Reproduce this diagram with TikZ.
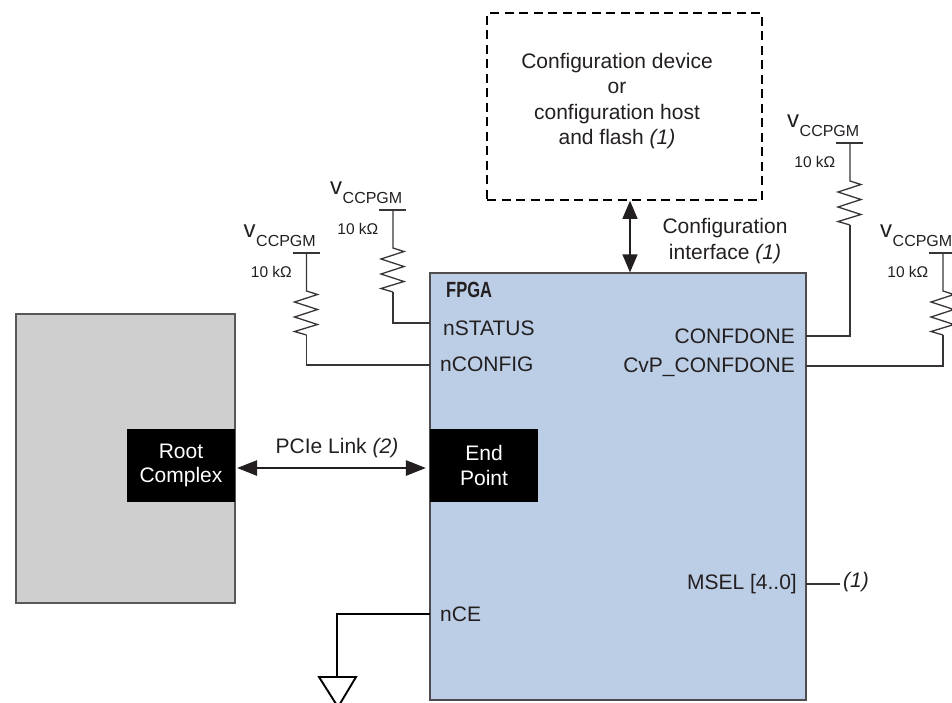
\documentclass[tikz,border=0pt]{standalone}
\usepackage{fontspec}
\setmainfont{Liberation Sans}
\usetikzlibrary{arrows.meta}
\definecolor{inkc}{HTML}{231F20}
\definecolor{fpgablue}{HTML}{BCCEE5}
\definecolor{hostgray}{HTML}{CFCFCF}
\tikzset{
    txt/.style = {inner sep=0pt, text=inkc, font=\fontsize{21}{25.3}\selectfont},
    small/.style = {inner sep=0pt, text=inkc, font=\fontsize{15.5}{18}\selectfont},
    blackbox/.style = {fill=black, text=white, inner sep=0pt, align=center, minimum width=108pt, minimum height=73pt, font=\fontsize{21}{24.5}\selectfont},
    wire/.style = {draw=inkc!90, line width=1.3pt},
    bigarrow/.style = {{Triangle[length=18pt,width=15pt]}-{Triangle[length=18pt,width=15pt]}, line width=1.4pt, draw=inkc},
    linkarrow/.style = {{Triangle[length=20pt,width=15.5pt]}-{Triangle[length=20pt,width=15.5pt]}, line width=1.3pt, draw=inkc, shorten <=2pt, shorten >=4pt}
}
\begin{document}
\begin{tikzpicture}[x=1pt, y=-1pt]
    \useasboundingbox (0,0) rectangle (952,702);
    \clip (0,0) rectangle (952,702);
    \node [draw=inkc!75, line width=1.2pt, fill=hostgray, inner sep=0pt, minimum width=219pt, minimum height=289pt] (host) at (125.5,458.5) {};
    \node [draw=inkc!80, line width=1.2pt, fill=fpgablue, inner sep=0pt, minimum width=376pt, minimum height=427pt] (fpga) at (618,486.5) {};
    \node [draw=black, line width=1.6pt, dash pattern=on 9pt off 5.5pt, inner sep=0pt, minimum width=275pt, minimum height=187pt] (config) at (624.5,106.5) {};
    \node [blackbox] (rootcomplex) at (181,465.5) {Root\\Complex};
    \node [blackbox] (endpoint) at (484,465.5) {End\\Point};
    \node [txt, align=center] (configtext) at (617,101) {Configuration device\\or\\configuration host\\and flash \textit{(1)}};
    \node [txt, align=center] (configlabel) at (725,241) {Configuration\\interface \textit{(1)}};
    \node [txt] (pcielabel) at (337,448) {PCIe Link \textit{(2)}};
    \node [inner sep=0pt, text=inkc, font=\bfseries\fontsize{22}{24}\selectfont, anchor=west] (fpgalabel) at (446,290) {\scalebox{0.75}[1]{FPGA}};
    \node [txt, anchor=west] (nstatus) at (443,328) {nSTATUS};
    \node [txt, anchor=west] (nconfig) at (440,364) {nCONFIG};
    \node [txt, anchor=west] (nce) at (440,614) {nCE};
    \node [txt, anchor=east] (confdone) at (795,336) {CONFDONE};
    \node [txt, anchor=east] (cvpdone) at (795,367.5) {CvP\_CONFDONE};
    \node [txt, anchor=east] (msel) at (797,584.5) {MSEL [4..0]};
    \node [txt, anchor=west] (mselnote) at (843,582) {\textit{(1)}};
    \coordinate (pinstatus) at (430,323);
    \coordinate (pinconfig) at (430,365);
    \coordinate (pindone) at (806,336);
    \coordinate (pincvp) at (806,366);
    \coordinate (pinmsel) at (806,584);
    \coordinate (mselend) at (840,584);
    \coordinate (pince) at (430,614);
    \coordinate (gnd) at (337,677);
    \coordinate (iface) at (630,0);
    \foreach \name/\xx/\yy in {a/306.5/253, b/393/210, c/850/143, d/943/253} {
        \node [inner sep=0pt, text=inkc, font=\fontsize{24}{24}\selectfont, anchor=base west] (v\name) at (\xx-63,\yy-16) {v};
        \node [inner sep=0pt, text=inkc, font=\fontsize{16}{16}\selectfont, anchor=base west] (vcc\name) at (\xx-50.5,\yy-7) {CCPGM};
        \node [small, anchor=base east] (res\name) at (\xx-14.5,\yy+24) {10 kΩ};
        \draw [wire] (\xx-14,\yy) -- (\xx+13,\yy);
        \draw [wire] (\xx,\yy) -- ++(0,38) -- ++(11,3.5) -- ++(-23,7.5) -- ++(23,7.5) -- ++(-23,7.5)
            -- ++(23,7.5) -- ++(-23,7) -- ++(12,3.5) coordinate (end\name);
    }
    \draw [wire] (enda) |- (pinconfig);
    \draw [wire] (endb) |- (pinstatus);
    \draw [wire] (endc) |- (pindone);
    \draw [wire] (endd) |- (pincvp);
    \draw [wire] (pinmsel) -- (mselend);
    \draw [bigarrow] (iface |- config.south) -- (iface |- fpga.north);
    \draw [linkarrow] ([yshift=-2.5pt]rootcomplex.east) -- ([yshift=-2.5pt]endpoint.west);
    \draw [draw=black, line width=1.9pt] (pince) -| (gnd);
    \draw [draw=black, line width=1.9pt, line join=miter] (319,677) -- (356,677) -- (338,707) -- cycle;
\end{tikzpicture}
\end{document}
